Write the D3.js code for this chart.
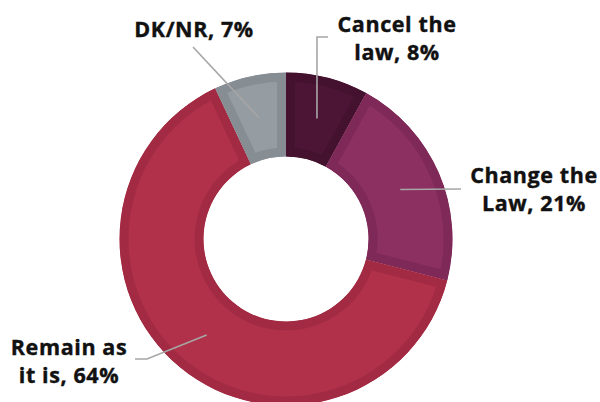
<!DOCTYPE html>
<html>
<head>
<meta charset="utf-8">
<script src="https://cdn.jsdelivr.net/npm/d3@7"></script>
<style>
  html, body { margin: 0; padding: 0; background: #fff; }
  svg { display: block; }
  text { font-family: "Open Sans", Lato, sans-serif; font-weight: 700; fill: #111; }
</style>
</head>
<body>
<svg id="chart" width="600" height="402"></svg>
<script>
// ---- data ----
const categories = ["Cancel the law", "Change the Law", "Remain as it is", "DK/NR"];
const values = [8, 21, 64, 7];
const labelLines = [["Cancel the", "law, 8%"], ["Change the", "Law, 21%"], ["Remain as", "it is, 64%"], ["DK/NR, 7%"]];

// ---- styles / layout ----
const fills = ["#4d1535", "#8c2f61", "#b1314b", "#959ca2"];
const borders = ["#44112e", "#7e2957", "#a22b43", "#868d93"];
const cx = 286, cy = 239, outerR = 166.5, innerR = 82.5, borderW = 9;
// label anchor (text centre x, first baseline y) and leader elbow points
const labelPos = [
  { x: 397, y: 32, elbow: [[317, 37], [328, 37]] },
  { x: 534, y: 183, elbow: [[461, 189]] },
  { x: 69, y: 355, elbow: [[147, 359], [135, 359]] },
  { x: 194, y: 37, elbow: [[193, 47]] }
];

const svg = d3.select("#chart");
const g = svg.append("g").attr("transform", `translate(${cx},${cy})`);

const pie = d3.pie().sort(null).value(d => d)(values);
const arc = d3.arc().innerRadius(innerR).outerRadius(outerR);
const mid = d3.arc().innerRadius((innerR + outerR) / 2).outerRadius((innerR + outerR) / 2);

const defs = svg.append("defs");
pie.forEach((p, i) => {
  defs.append("clipPath").attr("id", "clip" + i)
    .append("path").attr("d", arc(p));
});

g.selectAll("path.slice").data(pie).join("path")
  .attr("class", "slice")
  .attr("d", arc)
  .attr("fill", (d, i) => fills[i])
  .attr("stroke", (d, i) => borders[i])
  .attr("stroke-width", borderW * 2)
  .attr("stroke-linejoin", "miter")
  .attr("clip-path", (d, i) => `url(#clip${i})`);

// leader lines (start at arc centroid)
pie.forEach((p, i) => {
  const c = mid.centroid(p);
  const pts = [[c[0] + cx, c[1] + cy]].concat(labelPos[i].elbow);
  svg.append("path")
    .attr("d", d3.line()(pts))
    .attr("fill", "none")
    .attr("stroke", "#a6a6a6")
    .attr("stroke-width", 1.6);
});

// labels
labelLines.forEach((lines, i) => {
  const t = svg.append("text")
    .attr("text-anchor", "middle")
    .attr("font-size", 21.5)
    .attr("letter-spacing", 0.6)
    .attr("stroke", "#111")
    .attr("stroke-width", 0.4);
  lines.forEach((ln, j) => {
    t.append("tspan").attr("x", labelPos[i].x).attr("y", labelPos[i].y + j * 27.5).text(ln);
  });
});
</script>
</body>
</html>
